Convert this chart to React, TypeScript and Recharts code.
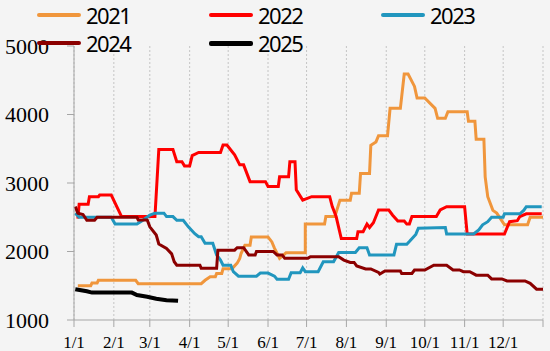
import { LineChart, Line, XAxis, YAxis, CartesianGrid } from "recharts";

// day of year -> value
const MONTH_TICKS = [0, 31, 59, 90, 120, 151, 181, 212, 243, 273, 304, 334, 365];
const MONTH_LABELS = ["1/1", "2/1", "3/1", "4/1", "5/1", "6/1", "7/1", "8/1", "9/1", "10/1", "11/1", "12/1", ""];
const Y_TICKS = [1000, 2000, 3000, 4000, 5000];

const S2021 = [
  [3, 1500], [13, 1500], [14, 1540], [18, 1540], [19, 1580], [48, 1580], [50, 1530], [99, 1530],
  [102, 1580], [106, 1630], [110, 1630], [111, 1680], [115, 1680], [116, 1750], [123, 1750],
  [127, 1830], [129, 1900], [130, 1970], [133, 2090], [137, 2090], [138, 2210], [151, 2210],
  [154, 2140], [156, 2050], [160, 1900], [165, 1980], [180, 1980], [180, 2400], [195, 2400],
  [196, 2510], [203, 2510], [207, 2750], [215, 2750], [216, 2850], [222, 2850], [223, 3140],
  [230, 3140], [231, 3550], [235, 3600], [237, 3690], [244, 3690], [246, 4090], [254, 4090],
  [257, 4590], [260, 4590], [265, 4410], [267, 4240], [273, 4240], [281, 4090], [283, 3945],
  [289, 3945], [291, 4040], [306, 4040], [307, 3900], [312, 3900], [313, 3640], [319, 3640],
  [320, 3090], [322, 2800], [326, 2600], [329, 2560], [335, 2390], [353, 2390], [355, 2500],
  [365, 2500],
];

const S2022 = [
  [3, 2480], [4, 2690], [11, 2690], [12, 2800], [19, 2800], [20, 2825], [29, 2825], [37, 2510],
  [63, 2510], [66, 3490], [77, 3490], [80, 3310], [84, 3310], [86, 3250], [90, 3250], [92, 3400],
  [97, 3445], [114, 3445], [116, 3555], [119, 3555], [125, 3410], [129, 3265], [132, 3265],
  [137, 3020], [149, 3020], [151, 2950], [159, 2950], [160, 3090], [167, 3090], [168, 3310],
  [172, 3310], [173, 2900], [178, 2750], [185, 2800], [199, 2800], [201, 2655], [204, 2510],
  [208, 2190], [220, 2190], [221, 2290], [225, 2290], [228, 2400], [230, 2350], [233, 2420],
  [237, 2606], [245, 2606], [248, 2530], [252, 2445], [257, 2445], [259, 2400], [261, 2400],
  [263, 2510], [282, 2510], [285, 2606], [290, 2655], [304, 2655], [306, 2255], [335, 2255],
  [339, 2435], [345, 2450], [347, 2510], [352, 2550], [364, 2550],
];

const S2023 = [
  [1, 2560], [4, 2500], [29, 2500], [32, 2400], [49, 2400], [53, 2450], [59, 2530], [63, 2560],
  [70, 2560], [72, 2510], [77, 2510], [80, 2455], [85, 2455], [89, 2360], [94, 2260], [97, 2215],
  [99, 2215], [102, 2120], [108, 2120], [111, 1950], [114, 1875], [116, 1800], [122, 1800],
  [124, 1705], [128, 1640], [142, 1640], [145, 1685], [151, 1685], [156, 1640], [158, 1595],
  [167, 1595], [169, 1690], [176, 1690], [178, 1760], [180, 1705], [190, 1705], [194, 1850],
  [202, 1850], [206, 1985], [219, 1985], [222, 2055], [228, 2055], [230, 1950], [249, 1950],
  [251, 2105], [259, 2105], [261, 2145], [266, 2250], [268, 2340], [289, 2350], [290, 2255],
  [311, 2255], [315, 2315], [318, 2390], [322, 2435], [325, 2500], [334, 2500], [335, 2550],
  [347, 2550], [350, 2600], [352, 2655], [364, 2655],
];

const S2024 = [
  [1, 2655], [3, 2560], [7, 2540], [10, 2455], [16, 2455], [18, 2500], [49, 2500], [50, 2460],
  [57, 2460], [59, 2360], [64, 2240], [66, 2110], [72, 2045], [76, 1965], [78, 1850], [80, 1800],
  [98, 1800], [99, 1755], [111, 1755], [112, 2020], [125, 2020], [127, 2055], [132, 2055],
  [136, 1950], [141, 1950], [142, 2000], [155, 2000], [158, 1950], [162, 1950], [164, 1900],
  [182, 1900], [184, 1925], [206, 1925], [210, 1875], [215, 1840], [218, 1840], [220, 1790],
  [227, 1745], [231, 1745], [237, 1695], [238, 1670], [242, 1715], [254, 1715], [255, 1680],
  [263, 1680], [265, 1730], [273, 1730], [280, 1800], [290, 1800], [295, 1730], [300, 1730],
  [303, 1705], [308, 1705], [313, 1655], [322, 1655], [325, 1600], [333, 1600], [337, 1570],
  [351, 1570], [355, 1535], [360, 1450], [365, 1450],
];

const S2025 = [
  [1, 1450], [10, 1420], [14, 1400], [45, 1400], [49, 1365], [57, 1340], [64, 1310], [72, 1290],
  [81, 1280],
];

const toPts = (arr: number[][]) => arr.map(([day, value]) => ({ day, value }));

const SERIES = [
  { name: "2021", color: "#F0963C", data: S2021, width: 3, col: 0, row: 0 },
  { name: "2022", color: "#FF0000", data: S2022, width: 3, col: 1, row: 0 },
  { name: "2023", color: "#2196BE", data: S2023, width: 3, col: 2, row: 0 },
  { name: "2024", color: "#8B0000", data: S2024, width: 3, col: 0, row: 1 },
  { name: "2025", color: "#000000", data: S2025, width: 4, col: 1, row: 1 },
];

const LEGEND_X = [37, 209, 381];
const LEGEND_Y = [15, 43];

export default function App() {
  return (
    <div
      style={{
        position: "absolute",
        left: 0,
        top: 0,
        width: 550,
        height: 351,
        background: "#f4f4f4",
        overflow: "hidden",
      }}
    >
      <LineChart width={550} height={351} margin={{ top: 46, right: 7, left: 0, bottom: 0 }}>
        <CartesianGrid horizontal={false} stroke="#c4c4c4" strokeDasharray="2 2" />
        <XAxis
          type="number"
          dataKey="day"
          domain={[0, 365]}
          ticks={MONTH_TICKS}
          tickFormatter={(v: number) => MONTH_LABELS[MONTH_TICKS.indexOf(v)] ?? ""}
          interval={0}
          height={31}
          tickSize={7}
          tickMargin={9}
          stroke="#a6a6a6"
          tick={{ fill: "#000", fontFamily: "Liberation Serif, serif", fontSize: 17 }}
          allowDuplicatedCategory={false}
        />
        <YAxis
          type="number"
          domain={[1000, 5000]}
          ticks={Y_TICKS}
          interval={0}
          width={74}
          tickSize={7}
          tickMargin={18}
          stroke="#a6a6a6"
          tick={{ fill: "#000", fontFamily: "Liberation Serif, serif", fontSize: 22 }}
        />
        {SERIES.map((s) => (
          <Line
            key={s.name}
            data={toPts(s.data)}
            dataKey="value"
            name={s.name}
            type="linear"
            stroke={s.color}
            strokeWidth={s.width}
            dot={false}
            activeDot={false}
            isAnimationActive={false}
          />
        ))}
      </LineChart>
      {SERIES.map((s) => (
        <div
          key={s.name}
          style={{
            position: "absolute",
            left: LEGEND_X[s.col],
            top: LEGEND_Y[s.row] - 15,
            height: 30,
            display: "flex",
            alignItems: "center",
          }}
        >
          <div style={{ width: 44, height: s.width + 1, background: s.color, borderRadius: 2 }} />
          <span
            style={{
              marginLeft: 5,
              fontFamily: "Noto Sans, sans-serif",
              fontSize: 22,
              letterSpacing: -1.5,
              color: "#000",
              lineHeight: "30px",
            }}
          >
            {s.name}
          </span>
        </div>
      ))}
    </div>
  );
}
